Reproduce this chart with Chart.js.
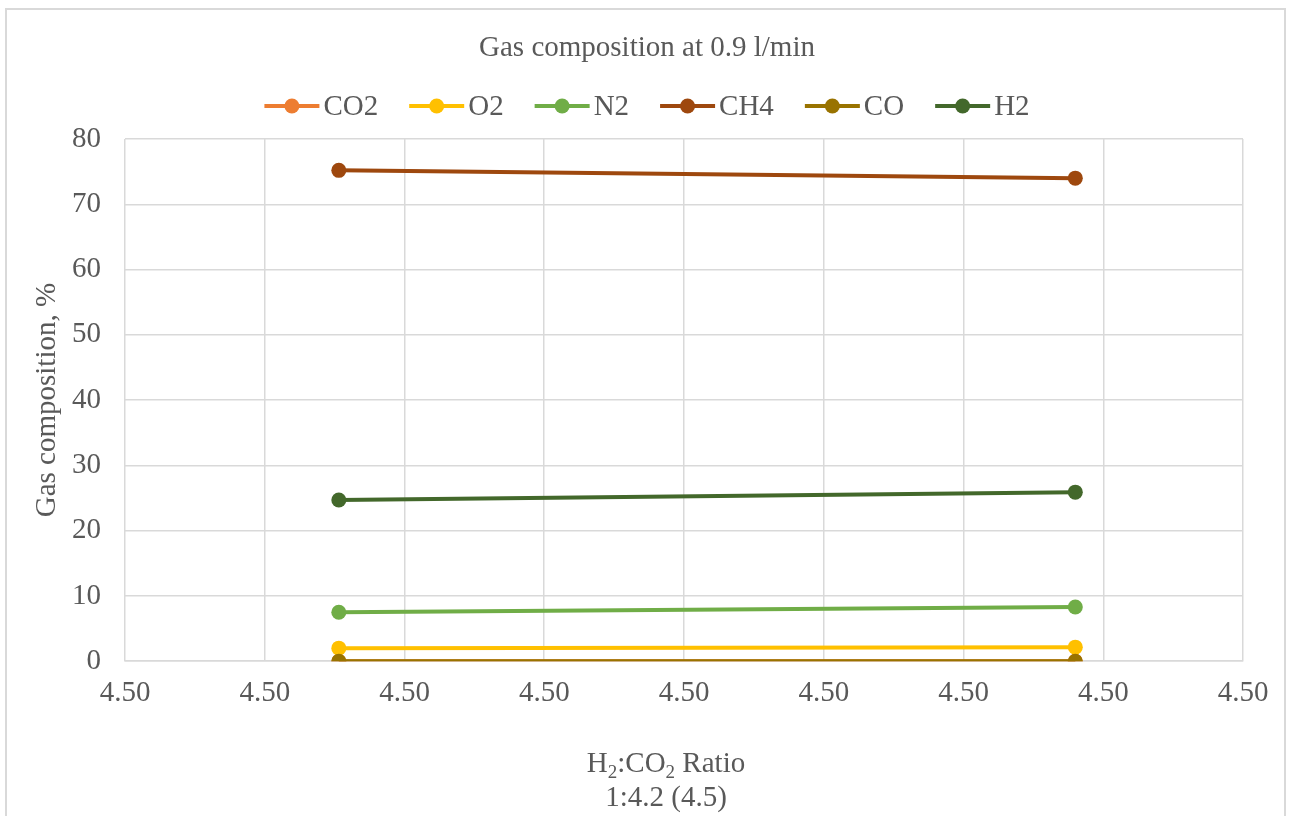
<!DOCTYPE html>
<html lang="en">
<head>
  <meta charset="UTF-8" />
  <title>Gas composition at 0.9 l/min</title>
  <script src="https://cdn.jsdelivr.net/npm/chart.js"></script>
  <style>
    html, body { margin: 0; padding: 0; background: #fff; overflow: hidden; }
    #wrap { position: absolute; left: 0; top: 0; width: 1294px; height: 816px; }
    #frame { position: absolute; left: 5px; top: 8px; width: 1281px; height: 820px; border: 2px solid #d9d9d9; box-sizing: border-box; }
    canvas { position: absolute; left: 0; top: 0; }
  </style>
</head>
<body>
  <div id="wrap">
    <div id="frame"></div>
    <canvas id="gasChart" width="1294" height="816"></canvas>
  </div>

  <script>
    // data
    const ratio = [4.49753, 4.5028]
    const co2 = [0, 0]
    const o2 = [2.0, 2.15]
    const n2 = [7.5, 8.3]
    const ch4 = [75.2, 74.0]
    const co = [0, 0]
    const h2 = [24.7, 25.9]
    const xTicks = [4.496, 4.497, 4.498, 4.499, 4.500, 4.501, 4.502, 4.503, 4.504]
    const yTicks = [0, 10, 20, 30, 40, 50, 60, 70, 80]

    const names = ['CO2', 'O2', 'N2', 'CH4', 'CO', 'H2']
    const colors = ['#ED7D31', '#FFC000', '#70AD47', '#9E480E', '#997300', '#43682B']
    const values = [co2, o2, n2, ch4, co, h2]
    const chartTitle = 'Gas composition at 0.9 l/min'
    // x title: [text, isSubscript]
    const xTitleLine1 = [['H', false], ['2', true], [':CO', false], ['2', true], [' Ratio', false]]
    const xTitleLine2 = '1:4.2 (4.5)'

    const textColor = '#595959'
    const serif = "'Liberation Serif', 'Times New Roman', serif"
    const fontSize = 29
    const subSize = 19

    // title, Excel-style legend and the x axis title (with subscripts)
    const header = {
      id: 'header',
      afterDraw(chart) {
        const ctx = chart.ctx
        const mainFont = `${fontSize}px ${serif}`
        const subFont = `${subSize}px ${serif}`
        ctx.save()
        ctx.font = mainFont
        ctx.textBaseline = 'middle'
        ctx.textAlign = 'center'
        ctx.fillStyle = textColor
        ctx.fillText(chartTitle, chart.width / 2, 48)

        // legend
        const y = 106
        const lineLen = 55, gapText = 4, gapItem = 31
        ctx.textAlign = 'left'
        const widths = names.map(n => ctx.measureText(n).width)
        let total = 0
        widths.forEach((w, i) => { total += lineLen + gapText + w + (i < names.length - 1 ? gapItem : 0) })
        let x = chart.width / 2 - total / 2
        names.forEach((n, i) => {
          ctx.strokeStyle = colors[i]
          ctx.lineWidth = 4
          ctx.beginPath()
          ctx.moveTo(x, y)
          ctx.lineTo(x + lineLen, y)
          ctx.stroke()
          ctx.fillStyle = colors[i]
          ctx.beginPath()
          ctx.arc(x + lineLen / 2, y, 7.5, 0, Math.PI * 2)
          ctx.fill()
          x += lineLen + gapText
          ctx.fillStyle = textColor
          ctx.fillText(n, x, y + 1)
          x += widths[i] + gapItem
        })

        // x axis title
        const cx = 666
        ctx.fillStyle = textColor
        ctx.textBaseline = 'alphabetic'
        const base1 = 772
        let w1 = 0
        xTitleLine1.forEach(([t, sub]) => {
          ctx.font = sub ? subFont : mainFont
          w1 += ctx.measureText(t).width
        })
        let tx = cx - w1 / 2
        xTitleLine1.forEach(([t, sub]) => {
          ctx.font = sub ? subFont : mainFont
          ctx.fillText(t, tx, sub ? base1 + 6 : base1)
          tx += ctx.measureText(t).width
        })
        ctx.font = mainFont
        ctx.textAlign = 'center'
        ctx.fillText(xTitleLine2, cx, base1 + 34)
        ctx.restore()
      }
    }

    const datasets = names.map((n, i) => ({
      label: n,
      data: ratio.map((x, j) => ({ x: x, y: values[i][j] })),
      borderColor: colors[i],
      backgroundColor: colors[i],
      borderWidth: 4,
      pointRadius: 7.5,
      pointHoverRadius: 7.5,
      pointBorderWidth: 0,
      order: names.length - i
    }))

    new Chart(document.getElementById('gasChart'), {
      type: 'line',
      data: { datasets },
      plugins: [header],
      options: {
        responsive: false,
        animation: false,
        layout: { padding: { left: 12, right: 51, top: 139, bottom: 90 } },
        plugins: {
          title: { display: false },
          legend: { display: false },
          tooltip: { enabled: false }
        },
        scales: {
          x: {
            type: 'linear',
            min: xTicks[0],
            max: xTicks[xTicks.length - 1],
            afterBuildTicks(axis) { axis.ticks = xTicks.map(v => ({ value: v })) },
            ticks: {
              color: textColor,
              font: { family: serif, size: fontSize },
              padding: 15,
              maxRotation: 0,
              autoSkip: false,
              callback: v => v.toFixed(2)
            },
            grid: { color: '#d9d9d9', lineWidth: 1.5, drawTicks: false },
            border: { color: '#d9d9d9', width: 1.5 },
            title: { display: false }
          },
          y: {
            min: 0,
            max: 80,
            afterBuildTicks(axis) { axis.ticks = yTicks.map(v => ({ value: v })) },
            afterFit(axis) { axis.width = 113 },
            ticks: {
              color: textColor,
              font: { family: serif, size: fontSize },
              padding: 24
            },
            grid: { color: '#d9d9d9', lineWidth: 1.5, drawTicks: false },
            border: { display: false },
            title: {
              display: true,
              text: 'Gas composition, %',
              color: textColor,
              font: { family: serif, size: fontSize, lineHeight: 1.2 },
              padding: { top: 18, bottom: 0 }
            }
          }
        }
      }
    })
  </script>
</body>
</html>
